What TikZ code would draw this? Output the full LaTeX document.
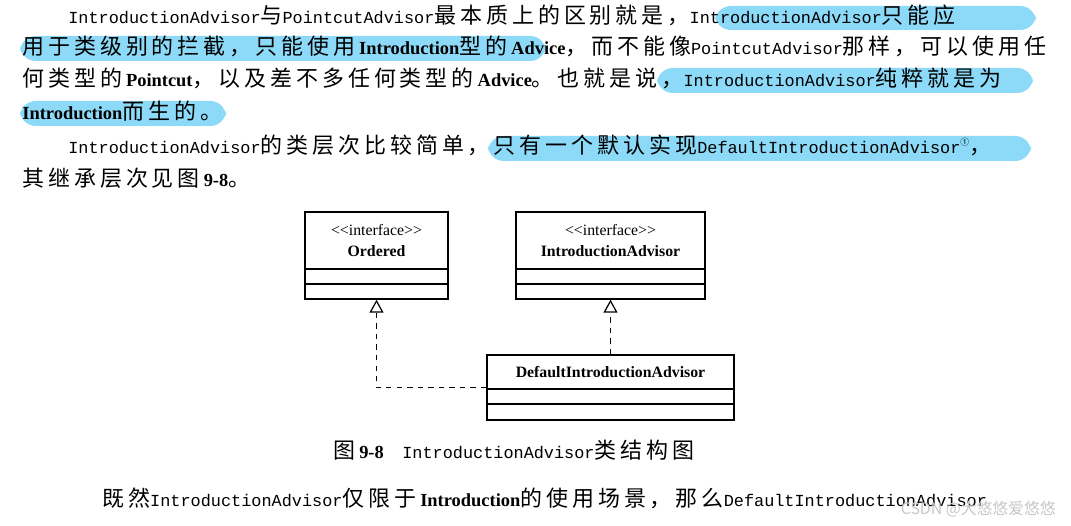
\documentclass[tikz,border=0pt]{standalone}
\usepackage{fontspec}
\setmainfont{Liberation Serif}
\newfontfamily\cjk[LetterSpace=18]{Noto Sans CJK SC}
\newfontfamily\cjkplain{Noto Sans CJK SC}
\newfontfamily\mono{Liberation Mono}
\usetikzlibrary{arrows.meta,positioning}
\newcommand{\zh}[1]{{\fontsize{12.5}{14}\cjk #1}}
\newcommand{\mn}[1]{{\fontsize{9.6}{12}\mono #1}}
\tikzset{line/.style={anchor=base west,inner sep=0pt,font=\fontsize{10.5}{12}\selectfont}}
\tikzset{hilite/.style={fill=cyan!45,rounded corners=9pt,draw=none}}
\tikzset{cls/.style={draw,line width=0.8pt,inner sep=0pt}}
\tikzset{clsname/.style={font=\fontsize{9}{10}\selectfont,inner sep=0pt}}
\tikzset{impl/.style={dashed,line width=0.7pt,-{Triangle[open,length=0.26cm,width=0.28cm]}}}
\begin{document}
\begin{tikzpicture}[x=0.02cm,y=-0.02cm]
  \useasboundingbox (0,0) rectangle (1071,526);
  % highlights
  \fill[hilite] (715,6) rectangle (1036,30);
  \fill[hilite] (20,36) rectangle (546,61);
  \fill[hilite] (657,68) rectangle (1033,93);
  \fill[hilite] (20,101) rectangle (226,126);
  \fill[hilite] (488,136) rectangle (1031,161);
  % text lines
  \node[line] (l1) at (68,24) {\mn{IntroductionAdvisor}\zh{与}\mn{PointcutAdvisor}\zh{最本质上的区别就是，}\mn{IntroductionAdvisor}\zh{只能应}};
  \node[line] (l2) at (22,55) {\zh{用于类级别的拦截，只能使用}\textbf{Introduction}\zh{型的}\textbf{Advice}\zh{，而不能像}\mn{PointcutAdvisor}\zh{那样，可以使用任}};
  \node[line] (l3) at (22,87) {\zh{何类型的}\textbf{Pointcut}\zh{，以及差不多任何类型的}\textbf{Advice}\zh{。也就是说，}\mn{IntroductionAdvisor}\zh{纯粹就是为}};
  \node[line] (l4) at (22,120) {\textbf{Introduction}\zh{而生的。}};
  \node[line] (l5) at (68,154) {\mn{IntroductionAdvisor}\zh{的类层次比较简单，只有一个默认实现}\mn{DefaultIntroductionAdvisor}\raisebox{1ex}{\cjkplain\tiny ①}\zh{，}};
  \node[line] (l6) at (22,187) {\zh{其继承层次见图}\textbf{9-8}\zh{。}};
  % class diagram
  \node[cls,minimum width=143*0.02cm,minimum height=87*0.02cm] (ord) at (376.5,255.5) {};
  \node[clsname] (ordi) at (376.5,230) {<{}<interface>{}>};
  \node[clsname] (ordn) at (376.5,251) {\textbf{Ordered}};
  \draw[line width=0.8pt] (305,269) -- (448,269) (305,284) -- (448,284);
  \node[cls,minimum width=189*0.02cm,minimum height=87*0.02cm] (intro) at (610.5,255.5) {};
  \node[clsname] (introi) at (610.5,230) {<{}<interface>{}>};
  \node[clsname] (intron) at (610.5,251) {\textbf{IntroductionAdvisor}};
  \draw[line width=0.8pt] (516,269) -- (705,269) (516,284) -- (705,284);
  \node[cls,minimum width=247*0.02cm,minimum height=65*0.02cm] (dia) at (610.5,387.5) {};
  \node[clsname] (dian) at (610.5,372) {\textbf{DefaultIntroductionAdvisor}};
  \draw[line width=0.8pt] (487,389) -- (734,389) (487,404) -- (734,404);
  \draw[impl] (dia.west) -| (ord.south);
  \draw[impl] (dia.north) -- (intro.south);
  % caption and last line
  \node[line] (cap) at (333,459) {\zh{图}\textbf{9-8}\quad\mn{IntroductionAdvisor}\zh{类结构图}};
  \node[line] (l7) at (102,506) {\zh{既然}\mn{IntroductionAdvisor}\zh{仅限于}\textbf{Introduction}\zh{的使用场景，那么}\mn{DefaultIntroductionAdvisor}};
  \node[anchor=base east,inner sep=0pt,text=gray!45,font=\fontsize{9}{10}\selectfont] (wm) at (1056,514) {{\cjkplain CSDN @大悠悠爱悠悠}};
\end{tikzpicture}
\end{document}
